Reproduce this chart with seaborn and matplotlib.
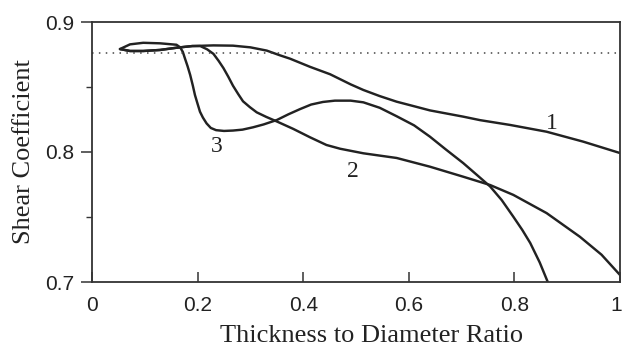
import matplotlib
matplotlib.use("Agg")
import matplotlib.pyplot as plt
import matplotlib.transforms as mtransforms
import seaborn as sns
import pandas as pd
from matplotlib.ticker import MultipleLocator

# ---- data ----
c1_x = [0.053, 0.072, 0.097, 0.129, 0.160, 0.19, 0.23, 0.267, 0.300, 0.331, 0.355, 0.375, 0.413,
        0.451, 0.49, 0.514, 0.545, 0.577, 0.61, 0.640, 0.703, 0.735, 0.792, 0.861, 0.93, 1.0]
c1_y = [0.8792, 0.8777, 0.8777, 0.8785, 0.8802, 0.8815, 0.882, 0.8818, 0.8805, 0.878, 0.8745, 0.8718, 0.8655,
        0.8598, 0.852, 0.8477, 0.843, 0.8387, 0.8352, 0.832, 0.8272, 0.8245, 0.8208, 0.8156, 0.808, 0.7992]

c2_x = [0.053, 0.072, 0.097, 0.129, 0.160, 0.19, 0.205, 0.218, 0.230, 0.24, 0.249, 0.258, 0.267, 0.277,
        0.286, 0.299, 0.312, 0.33, 0.35, 0.381, 0.413, 0.444, 0.47, 0.514, 0.577, 0.640, 0.703, 0.754,
        0.798, 0.861, 0.924, 0.965, 1.0]
c2_y = [0.8792, 0.8777, 0.8777, 0.8785, 0.8802, 0.8815, 0.8815, 0.879, 0.8755, 0.870, 0.8645, 0.858, 0.851,
        0.8445, 0.839, 0.8345, 0.8305, 0.827, 0.8235, 0.8178, 0.8113, 0.8054, 0.8025, 0.799, 0.7954, 0.7887,
        0.781, 0.7746, 0.767, 0.753, 0.7348, 0.721, 0.7054]

c3_x = [0.053, 0.072, 0.097, 0.129, 0.160, 0.167, 0.172, 0.176, 0.181, 0.186, 0.191, 0.195, 0.2, 0.2045,
        0.21, 0.217, 0.225, 0.235, 0.25, 0.267, 0.285, 0.305, 0.325, 0.35, 0.372, 0.394, 0.415, 0.4375,
        0.46, 0.49, 0.514, 0.545, 0.577, 0.61, 0.640, 0.67, 0.703, 0.73, 0.754, 0.776, 0.798, 0.815,
        0.830, 0.848, 0.864]
c3_y = [0.8792, 0.8828, 0.884, 0.8836, 0.8825, 0.8805, 0.877, 0.872, 0.866, 0.8592, 0.851, 0.8438, 0.837,
        0.831, 0.8265, 0.822, 0.8185, 0.8168, 0.8162, 0.8165, 0.8172, 0.819, 0.8212, 0.8246, 0.829, 0.833,
        0.8365, 0.8385, 0.8395, 0.8395, 0.8382, 0.834, 0.8275, 0.8205, 0.8118, 0.802, 0.7915, 0.782,
        0.7735, 0.763, 0.7502, 0.740, 0.730, 0.715, 0.6992]

ref_level = 0.876
curve_labels = ["1", "2", "3"]
label_pos = [(0.87, 0.822), (0.494, 0.785), (0.236, 0.804)]

x_ticks = [0, 0.2, 0.4, 0.6, 0.8, 1]
x_ticklabels = ["0", "0.2", "0.4", "0.6", "0.8", "1"]
y_ticks = [0.7, 0.8, 0.9]
y_ticklabels = ["0.7", "0.8", "0.9"]

df = pd.concat([
    pd.DataFrame({"x": c1_x, "y": c1_y, "curve": "1"}),
    pd.DataFrame({"x": c2_x, "y": c2_y, "curve": "2"}),
    pd.DataFrame({"x": c3_x, "y": c3_y, "curve": "3"}),
], ignore_index=True)

sns.set_style("ticks")
plt.rcParams["font.family"] = ["Liberation Sans", "DejaVu Sans"]

fig = plt.figure(figsize=(6.24, 3.47), dpi=100)
ax = fig.add_axes([92/624, 1-282/347, (620-92)/624, (282-22)/347])

sns.lineplot(data=df, x="x", y="y", hue="curve", palette=["#222222"]*3,
             sort=False, estimator=None, legend=False, linewidth=1.75, ax=ax)
ax.axhline(ref_level, color="#444444", linestyle=(0, (1, 3.5)), linewidth=1.1)

for t, (lx, ly) in zip(curve_labels, label_pos):
    ax.text(lx, ly, t, family="Liberation Serif", fontsize=17, ha="center", va="center",
            color="#222222")

ax.set_xlim(0, 1)
ax.set_ylim(0.7, 0.9)
ax.set_xticks(x_ticks)
ax.set_xticklabels(x_ticklabels)
ax.set_yticks(y_ticks)
ax.set_yticklabels(y_ticklabels)
ax.yaxis.set_minor_locator(MultipleLocator(0.05))

for s in ax.spines.values():
    s.set_visible(True)
    s.set_linewidth(1.3)
    s.set_color("#333333")

ax.tick_params(axis="x", direction="in", length=7, width=1.1, pad=10,
               labelsize=15, colors="#333333", labelcolor="#222222")
ax.tick_params(axis="y", which="major", direction="out", length=8, width=1.1, pad=5,
               labelsize=15, colors="#333333", labelcolor="#222222")
ax.tick_params(axis="y", which="minor", direction="out", length=4, width=1.0, colors="#333333")

# keep the last x tick label ("1") inside the figure edge
last = ax.get_xticklabels()[-1]
last.set_transform(last.get_transform() +
                   mtransforms.ScaledTranslation(-4/100, 0, fig.dpi_scale_trans))

ax.set_xlabel("Thickness to Diameter Ratio", family="Liberation Serif", fontsize=19,
              color="#222222")
ax.set_ylabel("Shear Coefficient", family="Liberation Serif", fontsize=19,
              color="#222222")
ax.xaxis.set_label_coords(0.53, -0.165)
ax.yaxis.set_label_coords(-0.108, 0.5)

fig.savefig("out.png", dpi=100)
